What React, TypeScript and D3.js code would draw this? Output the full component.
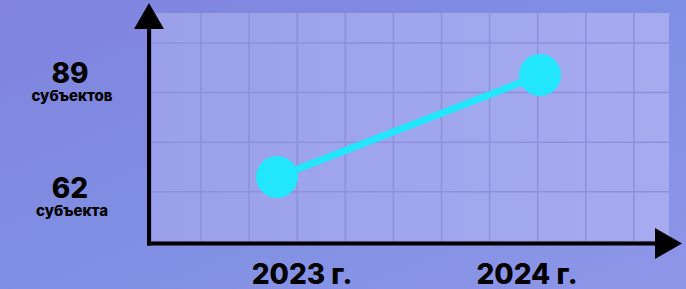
import React from "react";
import * as d3 from "d3";

const years = ["2023", "2024"];
const values = [62, 89];
const xLabels = ["2023 г.", "2024 г."];
const yLabels = [
  { value: 62, number: "62", word: "субъекта" },
  { value: 89, number: "89", word: "субъектов" },
];

const W = 686;
const H = 289;
const FONT = "Inter, 'Open Sans', sans-serif";

export default function App() {
  // позиции точек
  const x = d3.scalePoint<string>().domain(years).range([277, 540]);
  const y = d3.scaleLinear().domain([62, 89]).range([177, 75]);
  // подписи по оси X сдвинуты относительно точек
  const xLab = d3.scalePoint<string>().domain(years).range([302, 527]);

  const panel = { left: 152, right: 669, top: 13, bottom: 243 };
  const vLines = d3.range(201, panel.right, 48.1);
  const hLines = d3.range(43, panel.bottom, 49.6);

  const line = d3
    .line<number>()
    .x((_, i) => x(years[i]) as number)
    .y((d) => y(d));

  return (
    <svg
      width={W}
      height={H}
      style={{ position: "absolute", left: 0, top: 0, display: "block" }}
    >
      <defs>
        <linearGradient id="bg" x1="0" y1="0" x2="1" y2="1">
          <stop offset="0%" stopColor="#8183de" />
          <stop offset="50%" stopColor="#7f8fe3" />
          <stop offset="100%" stopColor="#8e96e9" />
        </linearGradient>
        <linearGradient id="panel" x1="0" y1="0" x2="1" y2="0">
          <stop offset="0%" stopColor="#9aa1ea" />
          <stop offset="100%" stopColor="#a6abf0" />
        </linearGradient>
      </defs>
      <rect width={W} height={H} fill="url(#bg)" />
      <rect
        x={panel.left}
        y={panel.top}
        width={panel.right - panel.left}
        height={panel.bottom - panel.top}
        fill="url(#panel)"
      />
      {vLines.map((v) => (
        <line
          key={"v" + v}
          x1={v}
          x2={v}
          y1={panel.top}
          y2={panel.bottom}
          stroke="#8d91dc"
          strokeWidth={1.5}
        />
      ))}
      {hLines.map((h) => (
        <line
          key={"h" + h}
          x1={panel.left}
          x2={panel.right}
          y1={h}
          y2={h}
          stroke="#8d91dc"
          strokeWidth={1.5}
        />
      ))}

      {/* оси */}
      <line x1={149} x2={149} y1={26} y2={245.5} stroke="#000" strokeWidth={4} />
      <path d="M134,29 L149,3 L164,29 Z" fill="#000" />
      <line x1={147} x2={657} y1={243.5} y2={243.5} stroke="#000" strokeWidth={4} />
      <path d="M655,228 L682,243.5 L655,259 Z" fill="#000" />

      {/* линия и точки */}
      <path d={line(values) || ""} fill="none" stroke="#22e6fb" strokeWidth={7} />
      {values.map((v, i) => (
        <circle key={i} cx={x(years[i])} cy={y(v)} r={21} fill="#22e6fb" />
      ))}

      {/* подписи Y */}
      {yLabels.map((l, i) => (
        <g key={l.number} fontFamily={FONT} fill="#000" textAnchor="middle">
          <text x={70} y={y(l.value) + (i === 0 ? 21 : 8)} fontSize={28} fontWeight={800}>
            {l.number}
          </text>
          <text x={72} y={y(l.value) + (i === 0 ? 39 : 26)} fontSize={15} fontWeight={800}>
            {l.word}
          </text>
        </g>
      ))}

      {/* подписи X */}
      {years.map((yr, i) => (
        <text
          key={yr}
          x={xLab(yr)}
          y={284}
          textAnchor="middle"
          fontFamily={FONT}
          fontSize={28}
          fontWeight={800}
          fill="#000"
        >
          {xLabels[i]}
        </text>
      ))}
    </svg>
  );
}
